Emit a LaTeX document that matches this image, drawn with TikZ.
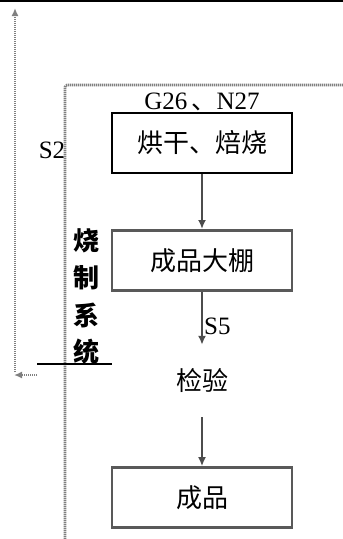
\documentclass[tikz,border=0pt]{standalone}
\usepackage{fontspec}
\setmainfont{Liberation Serif}
\newfontfamily\cjk{Noto Sans CJK SC}
\usetikzlibrary{arrows.meta, positioning}
\tikzstyle{block} = [minimum width=180pt, minimum height=60pt, rectangle, font=\cjk\fontsize{26}{28}\selectfont, inner sep=2pt]
\tikzstyle{process} = [draw, block, line width=2pt]
\tikzstyle{product} = [draw=black!65, block, line width=2.8pt]
\tikzstyle{label} = [font=\fontsize{25}{27}\selectfont, inner sep=1pt, text=black]
\tikzstyle{path} = [-{Latex[length=9pt, width=8pt]}, line width=2.4pt, black!70]
\tikzstyle{loop} = [black!50, line width=2.6pt, dash pattern=on 1.2pt off 0.8pt]

\begin{document}
\begin{tikzpicture}[x=1pt, y=-1pt, node distance=55pt]
    \useasboundingbox (0,0) rectangle (343,539);
    \draw [line width=2.5pt] (0,1) -- (343,1);

    % Stages.
    \node (dry) [process] at (202,143) {烘干、焙烧};
    \node (shed) [product, below=of dry] {成品大棚};
    \node (check) [block, minimum height=72pt, below=53pt of shed] {检验};
    \node (final) [product, below=49pt of check] {成品};

    % Labels.
    \node (gas) [label, above=0pt of dry] {G26\,{\cjk 、}N27};
    \node (s2) [label] at (52,150) {S2};
    \foreach \c [count=\i] in {烧, 制, 系, 统} {
        \node (sys\i) [font=\cjk\bfseries\fontsize{26}{28}\selectfont, inner sep=0pt] at (87,204+37*\i) {\c};
    }

    % Frame and return line.
    \draw [loop, rounded corners=2pt] (65,539) -- (65,85) -- (343,85);
    \coordinate (back1) at (37,375);
    \coordinate (back2) at (14,375);
    \coordinate (back3) at (15,8);
    \draw [loop, -{Latex[length=8pt, width=7pt]}] (back1) -- (back2);
    \draw [loop, -{Latex[length=8pt, width=7pt]}] (15,372) -- (back3);
    \draw [line width=1.4pt] (37,364) -- (112,364);

    % Arrows.
    \draw [path] (dry) -- (shed);
    \draw [path] (shed) -- node [label, right, pos=0.66] {S5} (check);
    \draw [path] (check) -- (final);
\end{tikzpicture}
\end{document}
